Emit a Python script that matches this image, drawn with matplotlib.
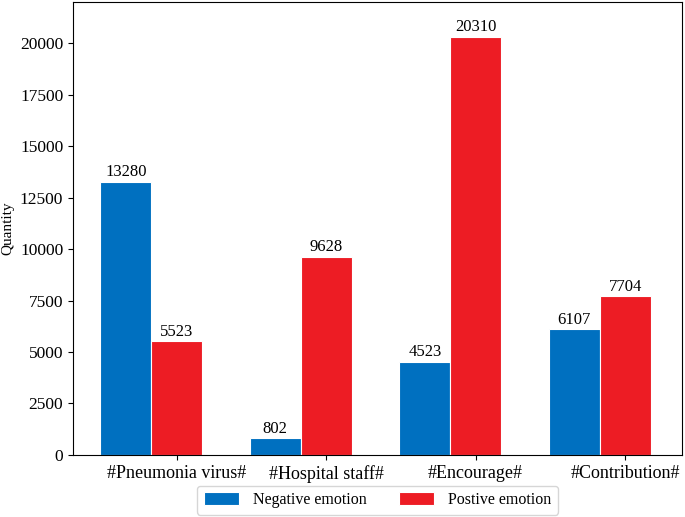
import matplotlib
matplotlib.use('Agg')
import matplotlib.pyplot as plt
import numpy as np

categories = ['#Pneumonia virus#', '#Hospital staff#', '#Encourage#', '#Contribution#']
negative = [13280, 802, 4523, 6107]
positive = [5523, 9628, 20310, 7704]
series_names = ['Negative emotion', 'Postive emotion']

plt.rcParams['font.family'] = ['Liberation Serif', 'DejaVu Serif']

fig = plt.figure(figsize=(6.85, 5.17), dpi=100)
ax = fig.add_axes([0.1066, 0.12, 0.889, 0.876])

x = np.arange(len(categories))
width = 0.34
b1 = ax.bar(x, negative, width, color='#0070C0', edgecolor='white', linewidth=0.8, label=series_names[0])
b2 = ax.bar(x + width, positive, width, color='#ED1C24', edgecolor='white', linewidth=0.8, label=series_names[1])

for bars in (b1, b2):
    for rect in bars:
        h = rect.get_height()
        ax.text(rect.get_x() + rect.get_width() / 2, h + 80, '{}'.format(int(h)),
                ha='center', va='bottom', fontsize=12)

ax.set_xticks(x + width)
ax.set_xticklabels(categories, fontsize=13)
ax.set_yticks(np.arange(0, 20001, 2500))
ax.tick_params(axis='y', labelsize=12.5)
ax.set_ylim(0, 22000)
ax.set_xlim(-0.353, 3.72)
ax.set_ylabel('Quantity', fontsize=11)

ax.legend(loc='upper center', bbox_to_anchor=(0.5, -0.05), ncol=2, fontsize=11.5,
          handlelength=2.2, handleheight=0.9, handletextpad=0.9, columnspacing=2.0)

fig.savefig('out.png', dpi=100)
